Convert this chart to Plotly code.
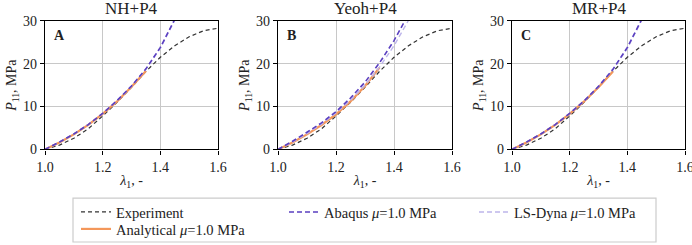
import plotly.graph_objects as go

# ---------------- data ----------------
panel_titles = ["NH+P4", "Yeoh+P4", "MR+P4"]
panel_letters = ["A", "B", "C"]

lam_exp = [1.0, 1.05, 1.1, 1.15, 1.2, 1.25, 1.3, 1.35, 1.4, 1.45, 1.5, 1.55, 1.6]
p_exp = [0.0, 1.0, 2.6, 4.8, 7.8, 11.0, 14.5, 18.2, 21.5, 24.2, 26.3, 27.7, 28.3]

lam_ana = [1.0, 1.05, 1.1, 1.15, 1.2, 1.25, 1.3, 1.35]
p_ana_nh = [0.0, 1.6, 3.5, 5.7, 8.3, 11.2, 14.6, 18.3]
p_ana_yeoh = [0.0, 1.6, 3.5, 5.7, 8.2, 11.2, 14.8, 19.1]
p_ana_mr = [0.0, 1.6, 3.5, 5.7, 8.3, 11.2, 14.5, 18.2]

lam_fe = [1.0, 1.05, 1.1, 1.15, 1.2, 1.25, 1.3, 1.35, 1.4, 1.45, 1.47]
p_abaqus_nh = [0.0, 1.7, 3.6, 5.8, 8.4, 11.4, 14.8, 18.8, 23.8, 30.3, 33.0]
p_lsdyna_nh = [0.0, 1.7, 3.6, 5.8, 8.4, 11.4, 14.8, 18.7, 23.6, 30.0, 32.8]
p_abaqus_yeoh = [0.0, 1.9, 4.0, 6.2, 8.8, 12.0, 15.7, 20.2, 25.4, 31.5, 34.0]
p_lsdyna_yeoh = [0.0, 1.7, 3.7, 5.9, 8.5, 11.5, 15.0, 19.2, 24.2, 29.8, 32.5]
p_abaqus_mr = [0.0, 1.7, 3.6, 5.8, 8.4, 11.3, 14.7, 18.7, 23.8, 30.4, 33.0]
p_lsdyna_mr = [0.0, 1.7, 3.6, 5.8, 8.4, 11.3, 14.7, 18.6, 23.6, 30.1, 32.8]

ana_sets = [p_ana_nh, p_ana_yeoh, p_ana_mr]
abaqus_sets = [p_abaqus_nh, p_abaqus_yeoh, p_abaqus_mr]
lsdyna_sets = [p_lsdyna_nh, p_lsdyna_yeoh, p_lsdyna_mr]

x_ticks = [1.0, 1.2, 1.4, 1.6]
y_ticks = [0, 10, 20, 30]

# ---------------- style ----------------
W, H = 692, 245
FONT = "Liberation Serif"
TXT = "#222222"
C_EXP = "#333333"
C_ANA = "#f4975a"
C_ABQ = "#5a3fc0"
C_LSD = "#bdb5ea"

x_px = [(45, 218), (278, 452), (512, 685)]
y_px = (21, 150)

fig = go.Figure()
annotations = []

for i in range(3):
    xa = "x" if i == 0 else f"x{i+1}"
    ya = "y" if i == 0 else f"y{i+1}"
    show = i == 0
    fig.add_trace(go.Scatter(x=lam_exp, y=p_exp, mode="lines", name="Experiment",
                             line=dict(color=C_EXP, width=1.2, dash="4px,3px"),
                             xaxis=xa, yaxis=ya, showlegend=show, legend="legend"))
    fig.add_trace(go.Scatter(x=lam_ana, y=ana_sets[i], mode="lines",
                             name="Analytical <i>μ</i>=1.0 MPa",
                             line=dict(color=C_ANA, width=2.2),
                             xaxis=xa, yaxis=ya, showlegend=show, legend="legend4"))
    fig.add_trace(go.Scatter(x=lam_fe, y=lsdyna_sets[i], mode="lines",
                             name="LS-Dyna <i>μ</i>=1.0 MPa",
                             line=dict(color=C_LSD, width=1.4, dash="5px,3px"),
                             xaxis=xa, yaxis=ya, showlegend=show, legend="legend3"))
    fig.add_trace(go.Scatter(x=lam_fe, y=abaqus_sets[i], mode="lines",
                             name="Abaqus <i>μ</i>=1.0 MPa",
                             line=dict(color=C_ABQ, width=1.6, dash="5px,3px"),
                             xaxis=xa, yaxis=ya, showlegend=show, legend="legend2"))

    x0, x1 = x_px[i]
    dom_x = [x0 / W, x1 / W]
    dom_y = [1 - y_px[1] / H, 1 - y_px[0] / H]
    axis_common = dict(showline=True, mirror=True, linecolor="black", linewidth=1.3,
                       ticks="outside", ticklen=4, tickwidth=1, tickcolor="black",
                       showgrid=True, gridcolor="#c8c8c8", gridwidth=1,
                       zeroline=False, automargin=False, ticklabeloverflow="allow",
                       tickfont=dict(family=FONT, size=14, color=TXT))
    fig.layout[f"xaxis{'' if i == 0 else i+1}"] = dict(
        axis_common, domain=dom_x, range=[1.0, 1.6], tickvals=x_ticks,
        ticktext=[f"{v:.1f}" for v in x_ticks], anchor=ya, ticklabelstandoff=1,
        title=dict(text="<i>λ</i><sub>1</sub>, -", standoff=0,
                   font=dict(family=FONT, size=14, color=TXT)))
    fig.layout[f"yaxis{'' if i == 0 else i+1}"] = dict(
        axis_common, domain=dom_y, range=[0, 30], tickvals=y_ticks, anchor=xa,
        title=dict(text="<i>P</i><sub>11</sub>, MPa", standoff=3,
                   font=dict(family=FONT, size=14, color=TXT)))
    annotations.append(dict(text=panel_titles[i], x=(dom_x[0] + dom_x[1]) / 2,
                            y=1 - 9 / H, xref="paper", yref="paper", showarrow=False,
                            xanchor="center", yanchor="middle",
                            font=dict(family=FONT, size=17, color=TXT)))
    annotations.append(dict(text=f"<b>{panel_letters[i]}</b>", x=0.04, y=0.89,
                            xref=f"{xa} domain", yref=f"{ya} domain", showarrow=False,
                            xanchor="left", yanchor="middle",
                            font=dict(family=FONT, size=14, color=TXT)))

leg_common = dict(bgcolor="rgba(0,0,0,0)", borderwidth=0, yanchor="middle", xanchor="left",
                  font=dict(family=FONT, size=14.5, color=TXT), tracegroupgap=0,
                  itemwidth=30)
fig.update_layout(
    template="none",
    width=W, height=H, margin=dict(l=0, r=0, t=0, b=0),
    paper_bgcolor="white", plot_bgcolor="white",
    font=dict(family=FONT, color=TXT),
    annotations=annotations,
    legend=dict(leg_common, x=76 / W, y=1 - 212 / H),
    legend4=dict(leg_common, x=76 / W, y=1 - 230 / H),
    legend2=dict(leg_common, x=284 / W, y=1 - 212 / H),
    legend3=dict(leg_common, x=474 / W, y=1 - 212 / H),
    shapes=[dict(type="rect", xref="paper", yref="paper",
                 x0=73 / W, x1=656 / W, y0=1 - 243 / H, y1=1 - 199 / H,
                 line=dict(color="#cccccc", width=1.2), fillcolor="rgba(0,0,0,0)")],
)

fig.write_html("out.html")
